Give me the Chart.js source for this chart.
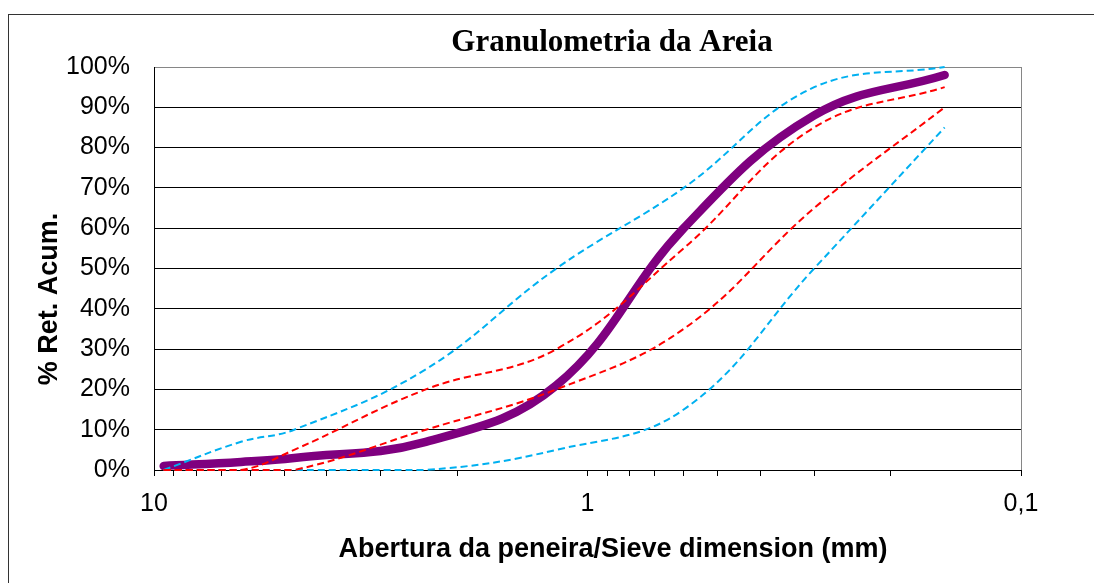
<!DOCTYPE html>
<html>
<head>
<meta charset="utf-8">
<title>Granulometria da Areia</title>
<script src="https://cdn.jsdelivr.net/npm/chart.js@4/dist/chart.umd.min.js"></script>
<style>
  html, body { margin: 0; padding: 0; background: #fff; overflow: hidden; }
  #wrap { position: relative; width: 1094px; height: 583px; }
  #frame { position: absolute; left: 8px; top: 14px; width: 1200px; height: 700px; border: 1px solid #333; box-sizing: border-box; }
  #c { position: absolute; left: 0; top: 0; }
</style>
</head>
<body>
<div id="wrap">
  <div id="frame"></div>
  <canvas id="c" width="1094" height="583"></canvas>
</div>
<script>
// Sieve openings (mm)
const sieveSizes = [9.5, 6.3, 4.75, 2.36, 1.18, 0.6, 0.3, 0.15];

// Cumulative retained (%) of the tested sand
const sampleRetained = [1, 2, 3, 7, 21, 60, 88, 98];

// Grading limits (%)
const usableLower  = [0, 0, 0, 0, 5, 15, 50, 85];
const optimalLower = [0, 0, 0, 10, 20, 35, 65, 90];
const optimalUpper = [0, 0, 5, 20, 30, 55, 85, 95];
const usableUpper  = [0, 7, 10, 25, 50, 70, 95, 100];

// Axis ticks
const xTickValues = [0.1, 0.2, 0.3, 0.4, 0.5, 0.6, 0.7, 0.8, 0.9,
                     1, 2, 3, 4, 5, 6, 7, 8, 9, 10];
const xMajorValues = [10, 1, 0.1];
const xMajorLabels = ['10', '1', '0,1'];
const yTickValues = [0, 10, 20, 30, 40, 50, 60, 70, 80, 90, 100];

const TITLE = 'Granulometria da Areia';
const X_TITLE = 'Abertura da peneira/Sieve dimension (mm)';
const Y_TITLE = '% Ret. Acum.';

const pts = (ys) => sieveSizes.map((x, i) => ({ x: x, y: ys[i] }));

const limitStyle = (color) => ({
  borderColor: color,
  backgroundColor: color,
  borderWidth: 2,
  borderDash: [7, 4],
  pointRadius: 0,
  fill: false,
  tension: 0.4,
  clip: 8
});

const SANS = '"Liberation Sans", Arial, sans-serif';
const SERIF = '"Liberation Serif", "Times New Roman", serif';

const textPlugin = {
  id: 'chartText',
  afterDraw(chart) {
    const ctx = chart.ctx;
    const a = chart.chartArea;
    ctx.save();
    // plot area border (right side)
    ctx.strokeStyle = '#868686';
    ctx.lineWidth = 1;
    ctx.beginPath();
    ctx.moveTo(Math.round(a.right) + 0.5, a.top);
    ctx.lineTo(Math.round(a.right) + 0.5, a.bottom);
    ctx.stroke();

    ctx.fillStyle = '#000';
    ctx.textAlign = 'center';
    ctx.textBaseline = 'alphabetic';
    ctx.font = 'bold 31px ' + SERIF;
    ctx.fillText(TITLE, 612, 51);

    ctx.font = 'bold 27px ' + SANS;
    ctx.fillText(X_TITLE, 613, 557);

    ctx.translate(57, 299);
    ctx.rotate(-Math.PI / 2);
    ctx.fillText(Y_TITLE, 0, 0);
    ctx.restore();
  }
};

new Chart(document.getElementById('c'), {
  type: 'line',
  data: {
    datasets: [
      Object.assign({ label: 'Amostra', data: pts(sampleRetained), order: 5 }, {
        borderColor: '#7F007F', backgroundColor: '#7F007F', borderWidth: 8.5,
        borderCapStyle: 'round', borderJoinStyle: 'round',
        pointRadius: 0, fill: false, tension: 0.4, clip: 10
      }),
      Object.assign({ label: 'Zona utilizável inferior', data: pts(usableLower), order: 4 }, limitStyle('#00B0F0')),
      Object.assign({ label: 'Zona utilizável superior', data: pts(usableUpper), order: 3 }, limitStyle('#00B0F0')),
      Object.assign({ label: 'Zona ótima inferior', data: pts(optimalLower), order: 2 }, limitStyle('#FF0000')),
      Object.assign({ label: 'Zona ótima superior', data: pts(optimalUpper), order: 1 }, limitStyle('#FF0000'))
    ]
  },
  options: {
    responsive: false,
    animation: false,
    events: [],
    layout: { padding: { left: 0, top: 67, right: 73, bottom: 0 } },
    plugins: {
      legend: { display: false },
      title: { display: false },
      tooltip: { enabled: false }
    },
    scales: {
      x: {
        type: 'logarithmic',
        reverse: true,
        min: 0.1,
        max: 10,
        afterFit(scale) { scale.height = 113; },
        afterBuildTicks(scale) { scale.ticks = xTickValues.map(v => ({ value: v })); },
        ticks: {
          autoSkip: false,
          maxRotation: 0,
          padding: 13,
          color: '#000',
          font: { family: SANS, size: 25 },
          callback(value) {
            const i = xMajorValues.findIndex(m => Math.abs(m - value) < 1e-9);
            return i >= 0 ? xMajorLabels[i] : '';
          }
        },
        grid: { drawOnChartArea: false, drawTicks: true, tickLength: 6, color: '#000', lineWidth: 1 },
        border: { display: true, color: '#000', width: 1 }
      },
      y: {
        min: 0,
        max: 100,
        afterFit(scale) { scale.width = 154; },
        afterBuildTicks(scale) { scale.ticks = yTickValues.map(v => ({ value: v })); },
        ticks: {
          padding: 24,
          color: '#000',
          font: { family: SANS, size: 25 },
          callback(value) { return value + '%'; }
        },
        grid: {
          drawTicks: false,
          color: (c) => (c.tick && c.tick.value === 100) ? '#868686' : '#000',
          lineWidth: 1
        },
        border: { display: true, color: '#000', width: 1 }
      }
    }
  },
  plugins: [textPlugin]
});
</script>
</body>
</html>
